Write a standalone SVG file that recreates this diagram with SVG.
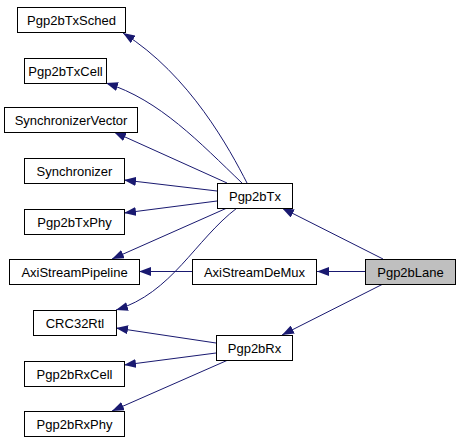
<svg xmlns="http://www.w3.org/2000/svg" width="461" height="443" viewBox="0 0 461 443">
<defs>
<style>
.node rect{fill:#ffffff;stroke:#000000;stroke-width:1}
.node text{font-family:"Liberation Sans",Arial,Helvetica,sans-serif;font-size:13px;fill:#000000;text-anchor:middle}
#n_lane rect{fill:#bfbfbf}
.edges path{fill:none;stroke:#191970;stroke-width:1;marker-end:url(#arr)}
</style>
<marker id="arr" viewBox="0 0 12 9" refX="12" refY="4.5" markerWidth="12" markerHeight="9" markerUnits="userSpaceOnUse" orient="auto">
<path d="M0,0 L12,4.5 L0,9 z" fill="#191970" stroke="none"/>
</marker>
</defs>
<rect width="461" height="443" fill="#ffffff"/>
<g class="edges" id="edges">
<path d="M247,183 C230,150 190,75 123,33"/>
<path d="M242,183 C200,143 160,100 106,83"/>
<path d="M227,183 L114,132"/>
<path d="M217,191 L124,180"/>
<path d="M217,201 L124,213"/>
<path d="M227,208 L112,259"/>
<path d="M237,208 C195,240 172,293 116,310"/>
<path d="M192,271.5 L139,271.5"/>
<path d="M365,271.5 L317,271.5"/>
<path d="M383,259 L282,208"/>
<path d="M383,284 L282,335"/>
<path d="M216,343 L116,328"/>
<path d="M216,353 L124,365"/>
<path d="M228,360 L112,411"/>
</g>
<g class="node" id="n_txsched"><rect x="17.5" y="7.5" width="108" height="25"/><text x="71.5" y="24.5">Pgp2bTxSched</text></g>
<g class="node" id="n_txcell"><rect x="24.5" y="58.5" width="82" height="25"/><text x="65.5" y="75.5">Pgp2bTxCell</text></g>
<g class="node" id="n_syncvec"><rect x="4.5" y="107.5" width="133" height="25"/><text x="71" y="124.5">SynchronizerVector</text></g>
<g class="node" id="n_sync"><rect x="24.5" y="158.5" width="100" height="25"/><text x="74.5" y="175.5">Synchronizer</text></g>
<g class="node" id="n_txphy"><rect x="24.5" y="209.5" width="100" height="25"/><text x="74.5" y="226.5">Pgp2bTxPhy</text></g>
<g class="node" id="n_pipeline"><rect x="9.5" y="259.5" width="130" height="25"/><text x="74.5" y="276.5">AxiStreamPipeline</text></g>
<g class="node" id="n_crc"><rect x="33.5" y="310.5" width="83" height="25"/><text x="75" y="327.5">CRC32Rtl</text></g>
<g class="node" id="n_rxcell"><rect x="24.5" y="361.5" width="100" height="25"/><text x="74.5" y="378.5">Pgp2bRxCell</text></g>
<g class="node" id="n_rxphy"><rect x="24.5" y="411.5" width="100" height="25"/><text x="74.5" y="428.5">Pgp2bRxPhy</text></g>
<g class="node" id="n_tx"><rect x="217.5" y="183.5" width="75" height="25"/><text x="255" y="200.5">Pgp2bTx</text></g>
<g class="node" id="n_demux"><rect x="192.5" y="259.5" width="124" height="25"/><text x="254.5" y="276.5">AxiStreamDeMux</text></g>
<g class="node" id="n_rx"><rect x="216.5" y="335.5" width="76" height="25"/><text x="254.5" y="352.5">Pgp2bRx</text></g>
<g class="node" id="n_lane"><rect x="365.5" y="259.5" width="90" height="25"/><text x="410.5" y="276.5">Pgp2bLane</text></g>
</svg>
